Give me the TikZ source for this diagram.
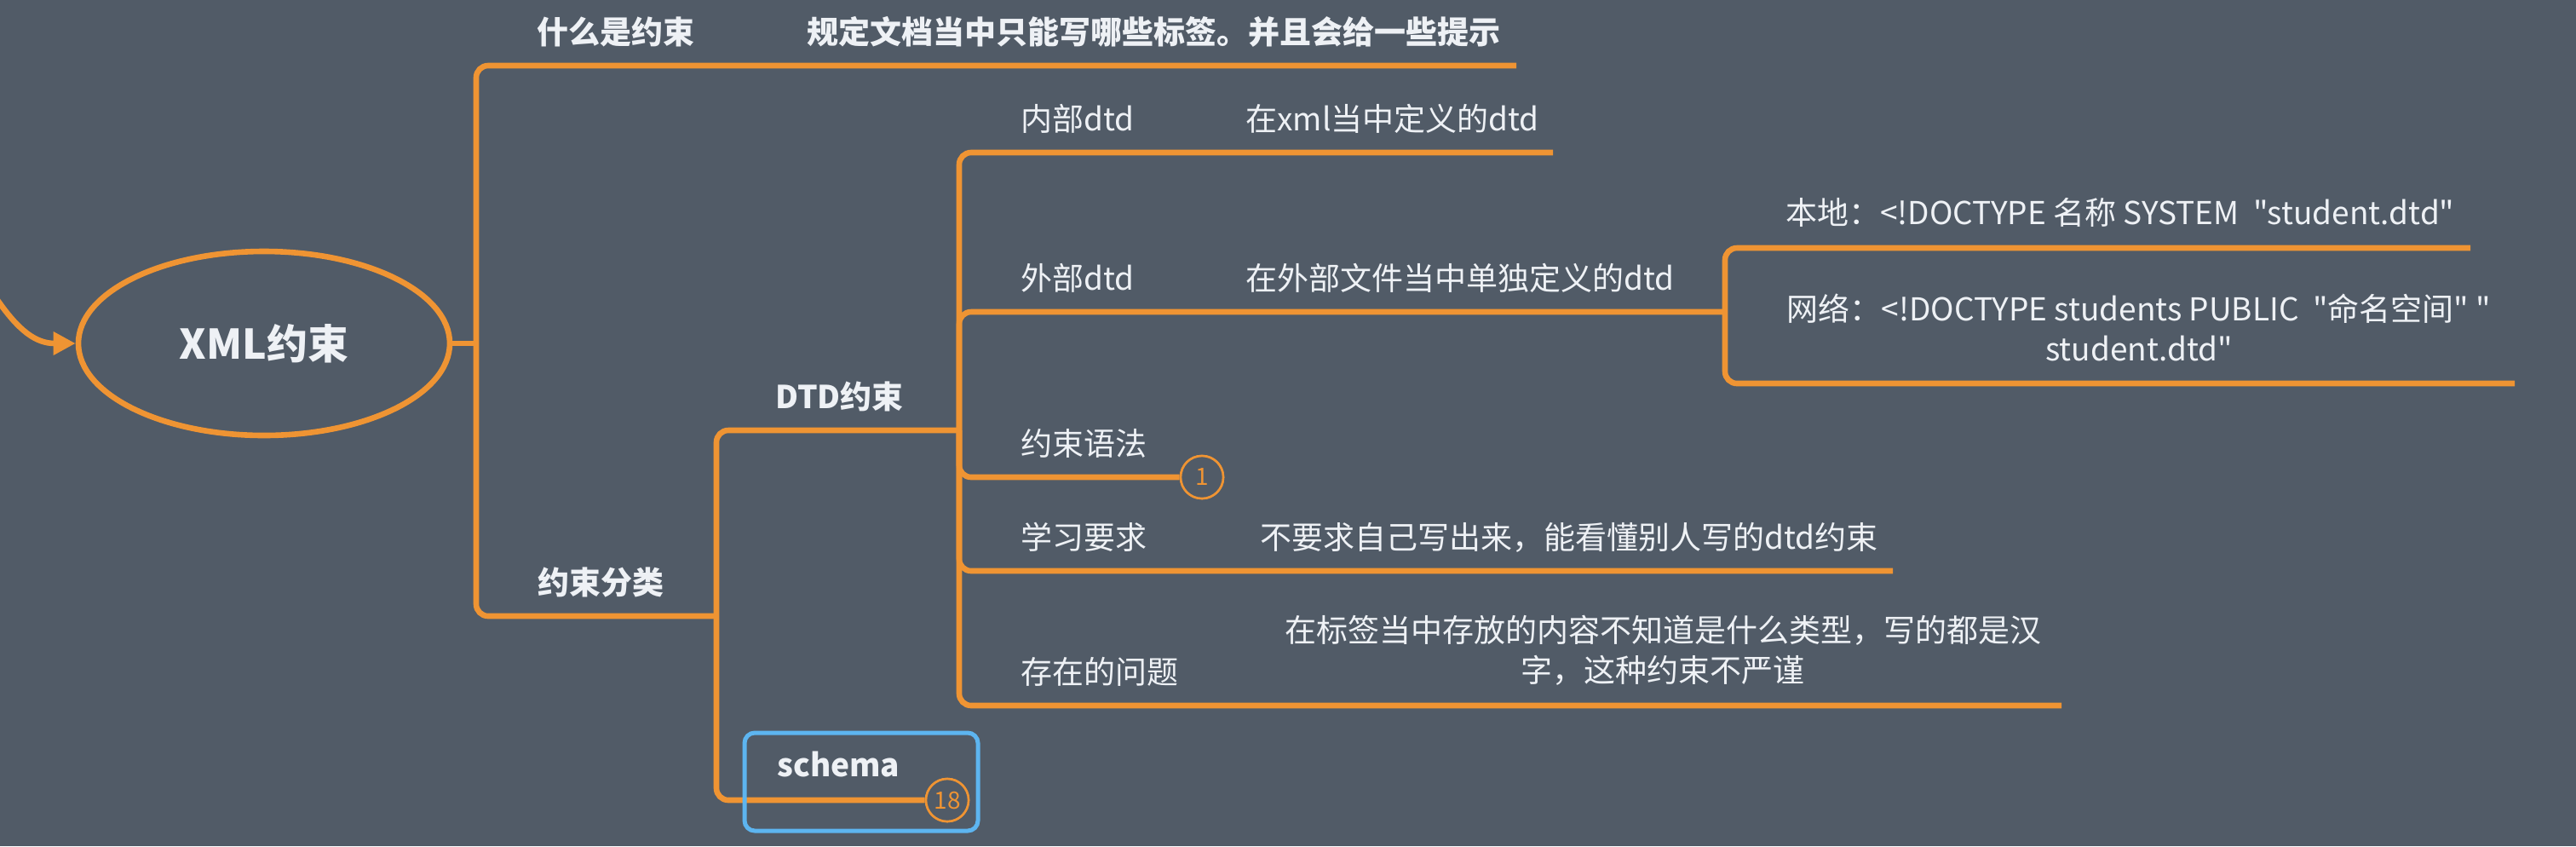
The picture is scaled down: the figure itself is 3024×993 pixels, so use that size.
\documentclass[tikz,border=0pt]{standalone}
\usepackage{fontspec}
\setmainfont{Noto Sans CJK SC}[Ligatures=TeXOff]
\usetikzlibrary{arrows.meta,shapes.geometric}
\definecolor{bg}{RGB}{81,91,103}
\definecolor{org}{RGB}{239,148,51}
\definecolor{sky}{RGB}{93,181,240}
\definecolor{txt}{RGB}{238,241,245}
\begin{document}
\begin{tikzpicture}[x=0.5pt,y=-0.5pt,
  br/.style={draw=org,line width=3.3pt,rounded corners=7pt},
  lab/.style={text=txt,font=\fontsize{18.5pt}{23.5pt}\selectfont,inner sep=0pt,anchor=base west},
  blab/.style={lab,font=\fontsize{18.5pt}{23.5pt}\selectfont\bfseries},
  mlab/.style={text=txt,font=\fontsize{18.5pt}{23.5pt}\selectfont,inner sep=0pt,align=center,anchor=center},
  badge/.style={circle,draw=org,line width=1.3pt,fill=bg,text=org,minimum size=25pt,inner sep=0pt,font=\fontsize{14pt}{14pt}\selectfont},
  rootnode/.style={ellipse,draw=org,line width=3.3pt,minimum width=218pt,minimum height=108pt,text=txt,font=\fontsize{24pt}{28pt}\selectfont\bfseries}]
\fill[bg] (0,0) rectangle (3024,993);
\useasboundingbox (0,0) rectangle (3024,993);
% root
\node[rootnode] (root) at (310,403) {XML约束};
\coordinate (src) at (-3,352);
\draw[org,line width=3.3pt,-{Triangle[length=13pt,width=13pt]}] (src) .. controls (22,388) and (42,403) .. (root.west);
% junctions and line ends
\coordinate (j0) at (559,403);
\coordinate (j1) at (841,723);
\coordinate (j2) at (1126,505);
\coordinate (j3) at (2025,366);
\coordinate (ewhat) at (1780,77);
\coordinate (enb) at (1823,179);
\coordinate (exx) at (2222,670);
\coordinate (ecz) at (2420,828);
\coordinate (ebd) at (2900,291);
\coordinate (ewl) at (2952,450);
% badges
\node[badge] (b1) at (1411,560) {1};
\node[badge] (b18) at (1112,939) {18};
% lines
\draw[br] (root.east) -- (j0);
\draw[br] (j0) |- (ewhat);
\draw[br] (j0) |- (j1);
\draw[br] (j1) |- (j2);
\draw[br] (j1) |- (b18.west);
\draw[br] (j2) |- (enb);
\draw[br] (j2) |- (j3);
\draw[br] (j2) |- (b1.west);
\draw[br] (j2) |- (exx);
\draw[br] (j2) |- (ecz);
\draw[br] (j3) |- (ebd);
\draw[br] (j3) |- (ewl);
% badges redrawn on top
\node[badge] at (b1) {1};
\node[badge] at (b18) {18};
% texts
\node[blab] (what) at (630,51) {什么是约束};
\node[blab] (whatd) at (947,51) {规定文档当中只能写哪些标签。并且会给一些提示};
\node[blab] (cls) at (631,697) {约束分类};
\node[blab] (dtd) at (910,479) {DTD约束};
\node[blab] (schema) at (912,911) {schema};
\node[lab] (nb) at (1198,153) {内部dtd};
\node[lab] (nbd) at (1462,153) {在xml当中定义的dtd};
\node[lab] (wb) at (1198,340) {外部dtd};
\node[lab] (wbd) at (1462,340) {在外部文件当中单独定义的dtd};
\node[lab] (yf) at (1198,534) {约束语法};
\node[lab] (xx) at (1198,644) {学习要求};
\node[lab] (xxd) at (1479,644) {不要求自己写出来，能看懂别人写的dtd约束};
\node[lab] (cz) at (1198,802) {存在的问题};
\node[mlab] (czd) at (1952,763) {在标签当中存放的内容不知道是什么类型，写的都是汉\\字，这种约束不严谨};
\node[lab] (bd) at (2096,263) {本地：<!DOCTYPE 名称 SYSTEM \ "student.dtd"};
\node[mlab] (wl) at (2511,384) {网络：<!DOCTYPE students PUBLIC \ "命名空间" "\\student.dtd"};
% selection frame
\draw[sky,line width=2.5pt,rounded corners=6pt] (874,860) rectangle (1148,975);
\end{tikzpicture}
\end{document}
